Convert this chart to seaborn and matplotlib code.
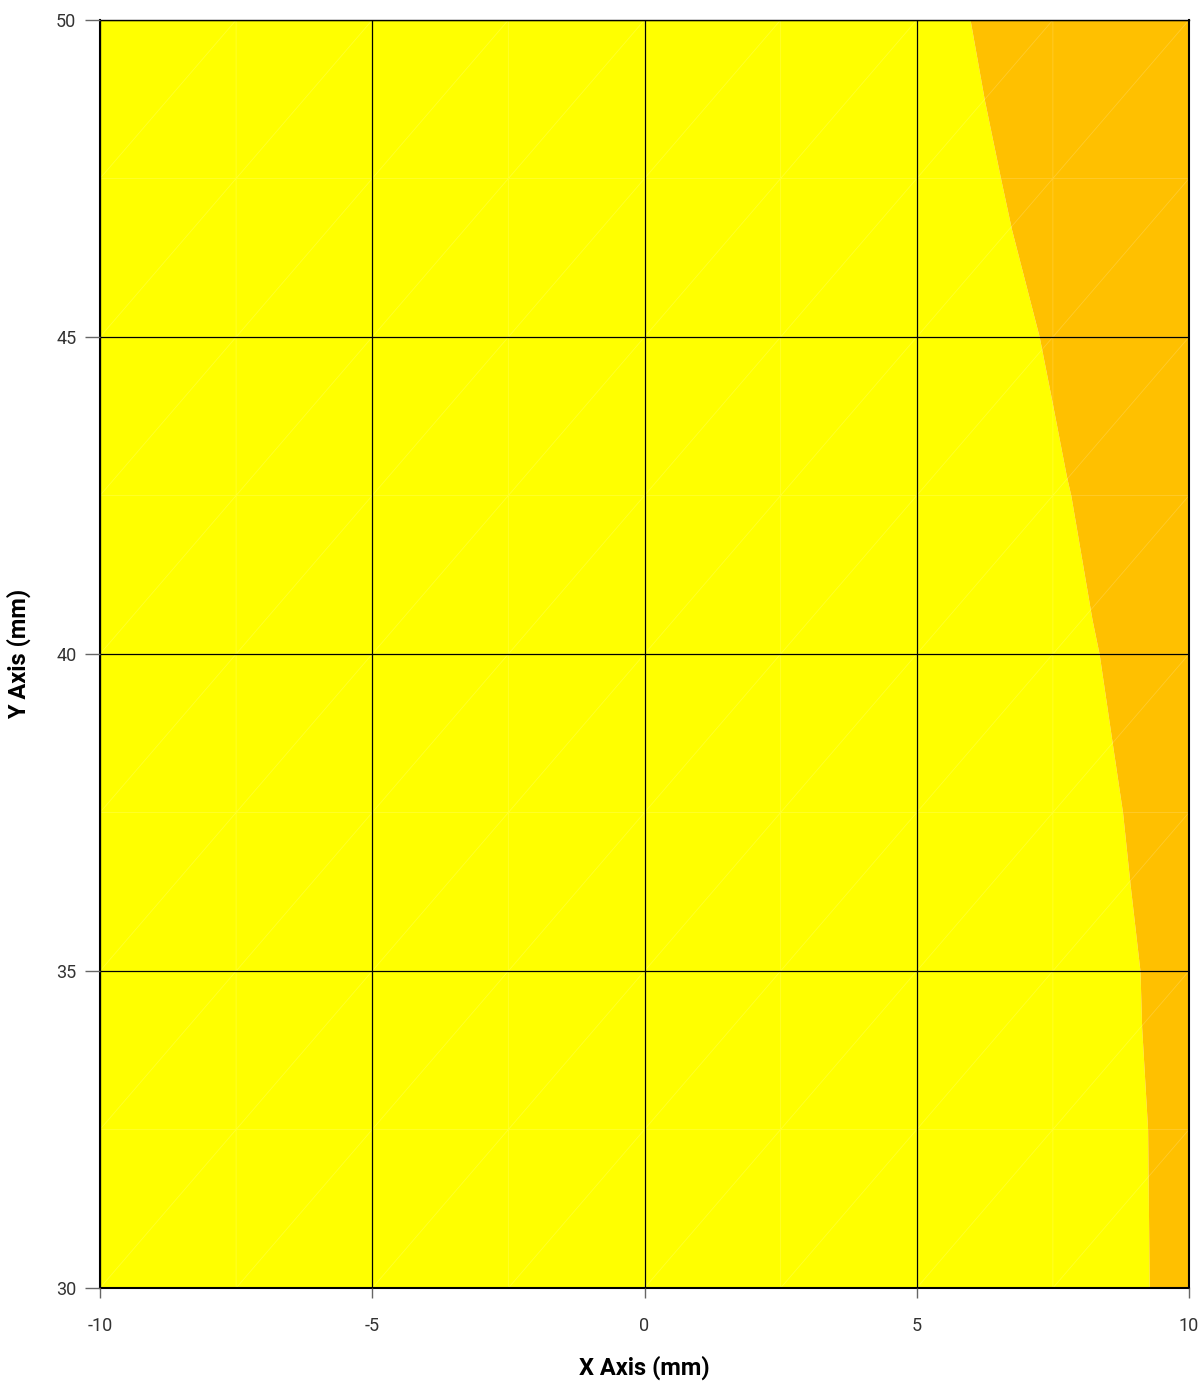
import numpy as np
import matplotlib
matplotlib.use("Agg")
import matplotlib.pyplot as plt
import matplotlib.tri as mtri
import seaborn as sns

# Boundary between the two filled contour bands
boundary_y = [30.0, 32.5, 34.12, 35.0, 36.35, 37.5, 38.54, 40.0, 40.54,
              42.5, 42.8, 44.0, 45.0, 46.7, 47.5, 48.75, 50.0]
boundary_x = [9.27, 9.24, 9.13, 9.10, 8.92, 8.78, 8.60, 8.35, 8.22,
              7.83, 7.75, 7.48, 7.25, 6.74, 6.54, 6.24, 5.98]
band_colors = ["#FFFF00", "#FFC000"]
x_ticks = [-10, -5, 0, 5, 10]
y_ticks = [30, 35, 40, 45, 50]
mesh_x = [-10, -7.5, -5, -2.5, 0, 2.5, 5, 7.5, 10]
mesh_y = [30, 32.5, 35, 37.5, 40, 42.5, 45, 47.5, 50]

sns.set_theme(style="white")
plt.rcParams['font.family'] = ['Liberation Sans Narrow', 'Roboto', 'DejaVu Sans']

fig = plt.figure(figsize=(12.04, 13.88), dpi=100)
ax = fig.add_axes([100/1204, 1 - 1288/1388, 1089/1204, 1268/1388])

by = np.array(boundary_y)
bx = np.array(boundary_x)
ax.fill_betweenx(by, -10, bx, color=band_colors[0], lw=0)
ax.fill_betweenx(by, bx, 10, color=band_colors[1], lw=0)

# faint triangulation mesh edges
mx, my = np.meshgrid(mesh_x, mesh_y)
nx, ny = len(mesh_x), len(mesh_y)
tris = []
for j in range(ny - 1):
    for i in range(nx - 1):
        a = j * nx + i
        b = a + 1
        c = a + nx
        d = c + 1
        tris.append([a, b, d])
        tris.append([a, d, c])
tri = mtri.Triangulation(mx.ravel(), my.ravel(), tris)
ax.triplot(tri, color="white", lw=0.6, alpha=0.18)

ax.set_xlim(-10, 10)
ax.set_ylim(30, 50)
ax.set_xticks(x_ticks)
ax.set_yticks(y_ticks)
ax.set_xticklabels([str(v) for v in x_ticks])
ax.set_yticklabels([str(v) for v in y_ticks])
ax.grid(True, color="black", lw=0.9)
ax.set_axisbelow(False)
for s in ax.spines.values():
    s.set_color("black")
    s.set_linewidth(1.5)
ax.spines['top'].set_linewidth(1.0)

ax.tick_params(axis='y', which='major', direction='out', length=11, width=1,
               color="#666666", labelsize=13, labelcolor="#333333", pad=6, left=True)
ax.tick_params(axis='x', which='major', direction='out', length=7, width=1,
               color="#666666", labelsize=13, labelcolor="#333333", pad=14, bottom=True)

ax.set_xlabel("X Axis (mm)", fontsize=17, fontweight="bold", color="black", labelpad=15)
ax.set_ylabel("Y Axis (mm)", fontsize=17, fontweight="bold", color="black", labelpad=18)

fig.savefig("out.png", dpi=100)
